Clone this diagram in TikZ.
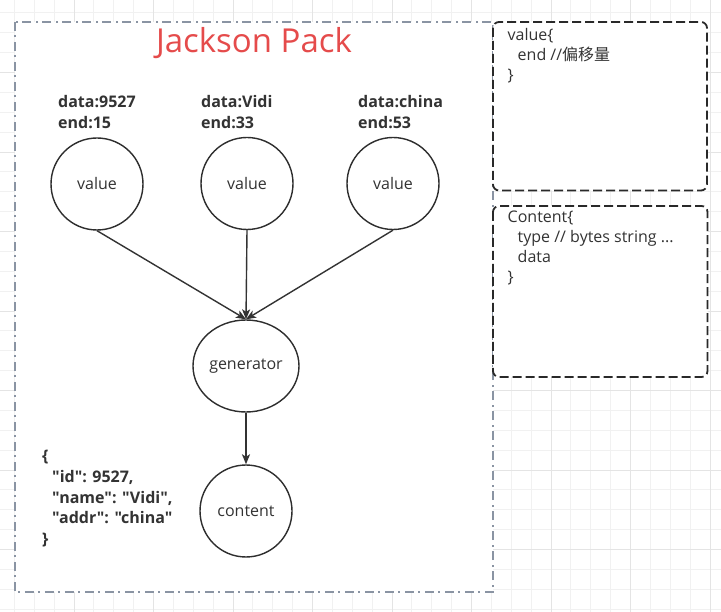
\documentclass[tikz,border=0pt]{standalone}
\usepackage{fontspec}
\setmainfont{Open Sans}[Ligatures=TeXOff]
\newfontfamily\cjk{Noto Sans CJK SC}
\usepackage{tikz}
\usetikzlibrary{arrows.meta, shapes.geometric}

\definecolor{inkgray}{HTML}{333333}
\definecolor{framegray}{HTML}{8A94A3}
\definecolor{titlered}{HTML}{E54B4B}
\definecolor{gridminor}{HTML}{F1F1F1}
\definecolor{gridmajor}{HTML}{E4E4E4}

\tikzset{
  valnode/.style={circle, draw=inkgray!90!black, line width=1.4pt, minimum size=92pt, inner sep=0pt,
    font=\fontsize{16}{20}\selectfont, text=inkgray},
  gennode/.style={ellipse, draw=inkgray!90!black, line width=1.4pt, minimum width=106pt, minimum height=92pt,
    inner sep=0pt, font=\fontsize{16}{20}\selectfont, text=inkgray},
  flow/.style={draw=inkgray, line width=1.4pt, -{Stealth[length=10pt, width=8pt, inset=2.5pt]}},
  lbl/.style={anchor=north west, inner sep=0pt, align=left, text=inkgray,
    font=\bfseries\fontsize{16}{21}\selectfont},
  notetext/.style={anchor=north west, inner sep=0pt, align=left, text=inkgray,
    font=\fontsize{16}{20}\selectfont},
  notebox/.style={draw=inkgray!80!black, line width=1.8pt, dash pattern=on 9pt off 4pt,
    rounded corners=6pt, fill=white},
}

\begin{document}
\begin{tikzpicture}[x=1pt, y=-1pt]
            \useasboundingbox (0,0) rectangle (721,612);
            \fill[white] (0,0) rectangle (721,612);
            \foreach \i in {0,...,37}
                \draw[gridminor, line width=0.8pt] ({-5.5+19.875*\i},0) -- ({-5.5+19.875*\i},612);
            \foreach \j in {0,...,31}
                \draw[gridminor, line width=0.8pt] (0,{-7+19.875*\j}) -- (721,{-7+19.875*\j});
            \foreach \i in {0,...,9}
                \draw[gridmajor, line width=0.9pt] ({-5.5+79.5*\i},0) -- ({-5.5+79.5*\i},612);
            \foreach \j in {0,...,7}
                \draw[gridmajor, line width=0.9pt] (0,{-7+79.5*\j}) -- (721,{-7+79.5*\j});

            \draw[framegray, line width=1.3pt, fill=white, dash pattern=on 9pt off 4pt on 2pt off 5pt]
                (15,22) rectangle (493,592);
            \draw[notebox] (493,22) rectangle (707,190.5);
            \draw[notebox] (493,206) rectangle (707.5,377);

            \coordinate (P1) at (97,184);
            \coordinate (P2) at (247,183.5);
            \coordinate (P3) at (393,183.5);
            \coordinate (G) at (246,366);
            \coordinate (C) at (246,511);

            \node[font=\fontsize{33}{38}\selectfont, text=titlered, anchor=base] (title) at (254,53) {Jackson Pack};

            \node[lbl] (lbl1) at (58,95) {data:9527\\end:15};
            \node[lbl] (lbl2) at (201,95) {data:Vidi\\end:33};
            \node[lbl] (lbl3) at (358,95) {data:china\\end:53};

            \node[valnode] (v1) at (P1) {value};
            \node[valnode] (v2) at (P2) {value};
            \node[valnode] (v3) at (P3) {value};
            \node[gennode] (gen) at (G) {generator};
            \node[valnode] (content) at (C) {content};

            \node[lbl, font=\bfseries\fontsize{16}{20.7}\selectfont] (json) at (42,450)
                {\{\\\hspace*{10pt}"id": 9527,\\\hspace*{10pt}"name": "Vidi",\\\hspace*{10pt}"addr": "china"\\\}};

            \node[notetext] (valnote) at (507.5,28)
                {value\{\\\hspace*{10pt}end //{\cjk 偏移量}\\\}};
            \node[notetext] (contentnote) at (507.5,211)
                {Content\{\\\hspace*{10pt}type // bytes string ...\\\hspace*{10pt}data\\\}};

            \draw[flow] (v1.south) -- (gen.north);
            \draw[flow] (v2.south) -- (gen.north);
            \draw[flow] (v3.south) -- (gen.north);
            \draw[flow] (gen.south) -- (content.north);
        \end{tikzpicture}
\end{document}
